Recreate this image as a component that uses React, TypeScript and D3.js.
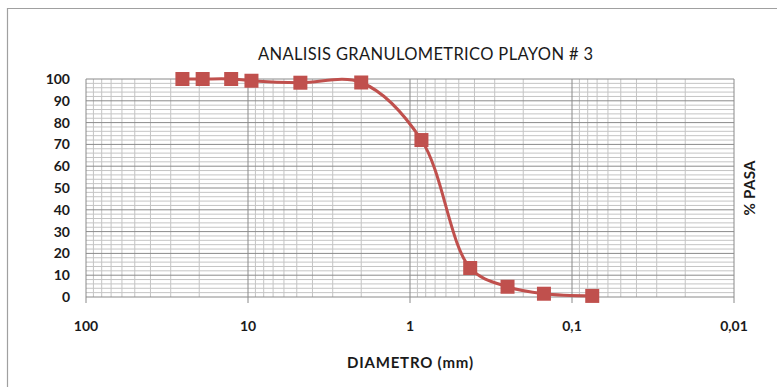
import React from "react";
import * as d3 from "d3";

const diametros = [25.4, 19.05, 12.7, 9.52, 4.75, 2.0, 0.85, 0.425, 0.25, 0.149, 0.075];
const pasa = [100, 100, 100, 99.2, 98.3, 98.4, 72, 13.3, 4.7, 1.5, 0.5];
const xTicks = [100, 10, 1, 0.1, 0.01];
const xTickLabels = ["100", "10", "1", "0,1", "0,01"];
const yTicks = [0, 10, 20, 30, 40, 50, 60, 70, 80, 90, 100];

const W = 777;
const H = 387;
const margin = { top: 79, right: 43, bottom: 90, left: 86 };

const App = () => {
  const x = d3.scaleLog().domain([100, 0.01]).range([margin.left, W - margin.right]);
  const y = d3.scaleLinear().domain([0, 100]).range([H - margin.bottom, margin.top]);

  const minorX: number[] = [];
  [0.01, 0.1, 1, 10].forEach((d) => {
    for (let k = 2; k <= 9; k++) minorX.push(k * d);
  });
  const minorY = d3.range(2, 100, 2).filter((v) => v % 10 !== 0);

  const points = diametros.map((d, i) => [x(d), y(pasa[i])] as [number, number]);
  const line = d3.line().curve(d3.curveCatmullRom.alpha(0.5))(points);

  const font = "Lato, 'Open Sans', sans-serif";
  const x0 = margin.left;
  const x1 = W - margin.right;
  const y0 = H - margin.bottom;
  const y1 = margin.top;

  return (
    <svg width={W} height={H} style={{ position: "absolute", left: 0, top: 0 }} fontFamily={font}>
      <rect x={0} y={0} width={W} height={H} fill="#fff" />
      <path d={`M7.5,${H}V8.5H${W}`} fill="none" stroke="#a0a0a0" strokeWidth={1.2} />

      <text x={425.5} y={60} textAnchor="middle" fontSize={16.5} fill="#1a1a1a" textLength={335} lengthAdjust="spacing">
        ANALISIS GRANULOMETRICO PLAYON # 3
      </text>

      {minorY.map((v) => (
        <line key={"my" + v} x1={x0} x2={x1} y1={y(v)} y2={y(v)} stroke="#c4c4c4" strokeWidth={1} />
      ))}
      {minorX.map((v) => (
        <line key={"mx" + v} x1={x(v)} x2={x(v)} y1={y0} y2={y1} stroke="#c4c4c4" strokeWidth={1} />
      ))}
      {yTicks.map((v) => (
        <line key={"gy" + v} x1={x0} x2={x1} y1={y(v)} y2={y(v)} stroke="#8a8a8a" strokeWidth={1} />
      ))}
      {xTicks.map((v) => (
        <line key={"gx" + v} x1={x(v)} x2={x(v)} y1={y0 + 6} y2={y1} stroke="#8a8a8a" strokeWidth={1} />
      ))}

      {yTicks.map((v) => (
        <text key={"ty" + v} x={70} y={y(v) + 5} textAnchor="end" fontSize={14} fontWeight="bold" fill="#1a1a1a">
          {v}
        </text>
      ))}
      {xTicks.map((v, i) => (
        <text key={"tx" + v} x={x(v)} y={331} textAnchor="middle" fontSize={14} fontWeight="bold" fill="#1a1a1a">
          {xTickLabels[i]}
        </text>
      ))}

      <text x={410} y={368} textAnchor="middle" fontSize={15} fontWeight="bold" fill="#1a1a1a" textLength={126} lengthAdjust="spacing">
        DIAMETRO (mm)
      </text>
      <text
        transform={`translate(755,${(y0 + y1) / 2}) rotate(-90)`}
        textAnchor="middle"
        fontSize={15}
        fontWeight="bold"
        fill="#1a1a1a"
        textLength={55}
        lengthAdjust="spacing"
      >
        % PASA
      </text>

      <path d={line || ""} fill="none" stroke="#C0504D" strokeWidth={3} />
      {points.map(([px, py], i) => (
        <rect key={"p" + i} x={px - 7} y={py - 7} width={14} height={14} fill="#C0504D" />
      ))}
    </svg>
  );
};

export default App;
